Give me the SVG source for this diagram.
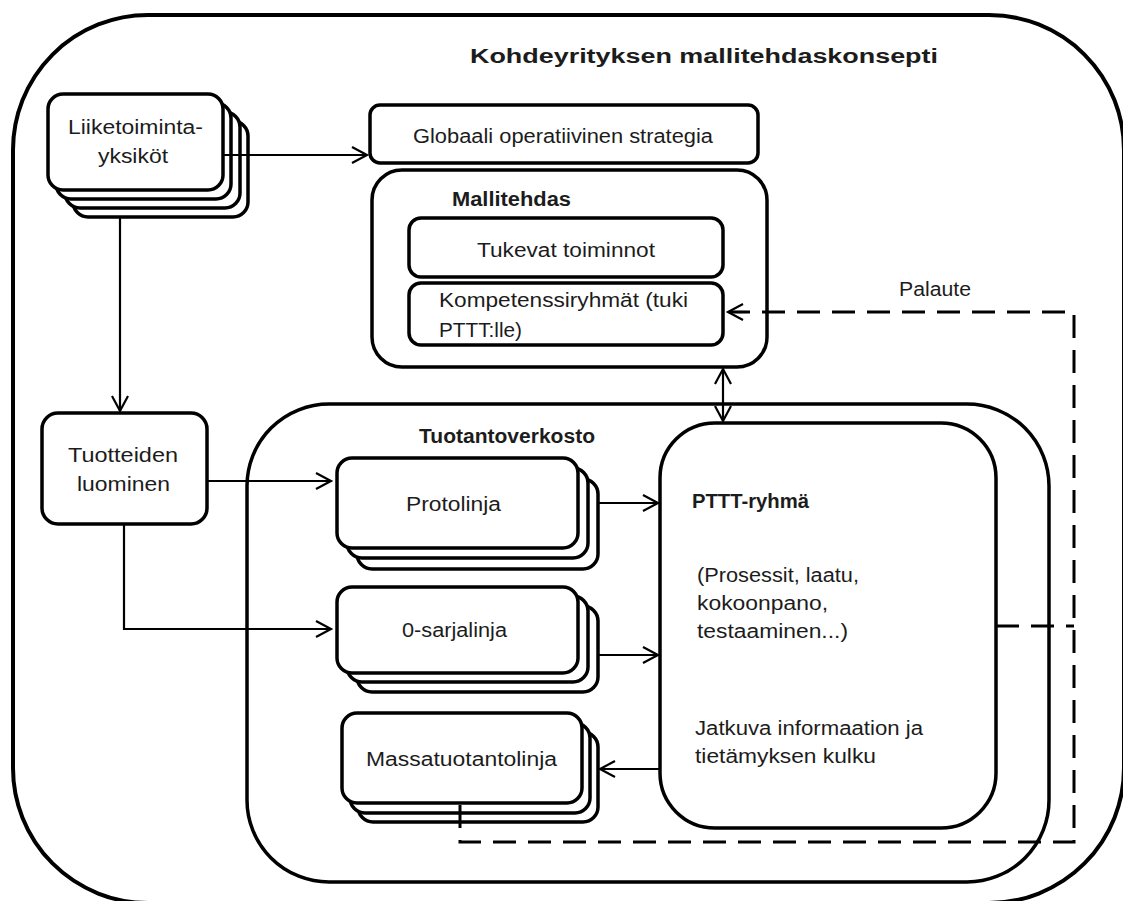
<svg xmlns="http://www.w3.org/2000/svg" width="1123" height="901" viewBox="0 0 1123 901">
  <style>
    .box { fill: #fff; stroke: #000; stroke-width: 3.5; }
    .frame { fill: none; stroke: #000; stroke-width: 4; }
    .link { fill: none; stroke: #000; stroke-width: 2.2; }
    .dash { fill: none; stroke: #000; stroke-width: 3; stroke-dasharray: 23 12; }
    .t { font-family: "Liberation Sans", Arial, sans-serif; font-size: 20px; fill: #1c1c1c; }
    .b { font-weight: bold; }
    .c { text-anchor: middle; }
  </style>
  <defs>
    <marker id="arrow" viewBox="-17 -10 20 20" refX="0" refY="0" markerWidth="20" markerHeight="20" markerUnits="userSpaceOnUse" orient="auto-start-reverse">
      <path d="M-15,-8 L0,0 L-15,8" fill="none" stroke="#000" stroke-width="2.2"/>
    </marker>
  </defs>

  <rect id="background" x="0" y="0" width="1123" height="901" fill="#fff"/>

  <!-- outer concept frame -->
  <g id="concept">
    <rect class="frame" x="13" y="15" width="1111" height="888" rx="135"/>
    <text class="t b" x="470" y="63" font-size="25" textLength="468" lengthAdjust="spacingAndGlyphs">Kohdeyrityksen mallitehdaskonsepti</text>
  </g>

  <!-- production network container -->
  <g id="tuotantoverkosto">
    <rect class="box" x="247" y="404" width="802" height="478" rx="82"/>
    <text class="t b" x="419" y="443" textLength="176" lengthAdjust="spacingAndGlyphs">Tuotantoverkosto</text>
  </g>

  <!-- business units (stacked) -->
  <g id="liiketoimintayksikot">
    <rect class="box" x="73" y="121" width="175" height="96" rx="15"/>
    <rect class="box" x="65" y="112" width="175" height="96" rx="15"/>
    <rect class="box" x="56" y="103" width="175" height="96" rx="15"/>
    <rect class="box" x="48" y="94" width="175" height="96" rx="15"/>
    <text class="t" x="68" y="134" textLength="135" lengthAdjust="spacingAndGlyphs">Liiketoiminta-</text>
    <text class="t" x="98" y="163" textLength="70" lengthAdjust="spacingAndGlyphs">yksiköt</text>
  </g>

  <g id="strategia">
    <rect class="box" x="370" y="105" width="388" height="58" rx="10"/>
    <text class="t" x="413" y="143" textLength="300" lengthAdjust="spacingAndGlyphs">Globaali operatiivinen strategia</text>
  </g>

  <g id="mallitehdas">
    <rect class="box" x="372" y="170" width="395" height="197" rx="30"/>
    <text class="t b" x="452" y="206" textLength="119" lengthAdjust="spacingAndGlyphs">Mallitehdas</text>
  </g>

  <g id="tukevat">
    <rect class="box" x="409" y="218" width="314" height="59" rx="12"/>
    <text class="t" x="477" y="257" textLength="178" lengthAdjust="spacingAndGlyphs">Tukevat toiminnot</text>
  </g>

  <g id="kompetenssi">
    <rect class="box" x="409" y="283" width="314" height="62" rx="12"/>
    <text class="t" x="439" y="307" textLength="249" lengthAdjust="spacingAndGlyphs">Kompetenssiryhmät (tuki</text>
    <text class="t" x="439" y="337" textLength="83" lengthAdjust="spacingAndGlyphs">PTTT:lle)</text>
  </g>

  <g id="tuotteiden-luominen">
    <rect class="box" x="42" y="413" width="165" height="111" rx="16"/>
    <text class="t" x="68" y="462" textLength="110" lengthAdjust="spacingAndGlyphs">Tuotteiden</text>
    <text class="t" x="77" y="491" textLength="93" lengthAdjust="spacingAndGlyphs">luominen</text>
  </g>

  <g id="protolinja">
    <rect class="box" x="357" y="479" width="241" height="90" rx="15"/>
    <rect class="box" x="347" y="468" width="241" height="90" rx="15"/>
    <rect class="box" x="337" y="458" width="241" height="90" rx="15"/>
    <text class="t" x="406" y="511" textLength="95" lengthAdjust="spacingAndGlyphs">Protolinja</text>
  </g>

  <g id="sarjalinja">
    <rect class="box" x="357" y="606" width="241" height="86" rx="15"/>
    <rect class="box" x="347" y="596" width="241" height="86" rx="15"/>
    <rect class="box" x="337" y="587" width="241" height="86" rx="15"/>
    <text class="t" x="402" y="637" textLength="105" lengthAdjust="spacingAndGlyphs">0-sarjalinja</text>
  </g>

  <g id="massatuotantolinja">
    <rect class="box" x="358" y="732" width="240" height="90" rx="15"/>
    <rect class="box" x="350" y="723" width="240" height="90" rx="15"/>
    <rect class="box" x="342" y="713" width="240" height="90" rx="15"/>
    <text class="t" x="366" y="766" textLength="191" lengthAdjust="spacingAndGlyphs">Massatuotantolinja</text>
  </g>

  <g id="pttt-ryhma">
    <rect class="box" x="660" y="423" width="336" height="405" rx="55"/>
    <text class="t b" x="692" y="508" textLength="117" lengthAdjust="spacingAndGlyphs">PTTT-ryhmä</text>
    <text class="t" x="697" y="582" textLength="162" lengthAdjust="spacingAndGlyphs">(Prosessit, laatu,</text>
    <text class="t" x="697" y="610" textLength="131" lengthAdjust="spacingAndGlyphs">kokoonpano,</text>
    <text class="t" x="697" y="638" textLength="151" lengthAdjust="spacingAndGlyphs">testaaminen...)</text>
    <text class="t" x="695" y="735" textLength="228" lengthAdjust="spacingAndGlyphs">Jatkuva informaation ja</text>
    <text class="t" x="695" y="763" textLength="181" lengthAdjust="spacingAndGlyphs">tietämyksen kulku</text>
  </g>

  <!-- connectors -->
  <g id="connectors">
    <path class="link" d="M223,155 H367" marker-end="url(#arrow)"/>
    <path class="link" d="M120,217 V411" marker-end="url(#arrow)"/>
    <path class="link" d="M207,481 H331" marker-end="url(#arrow)"/>
    <path class="link" d="M124,524 V629 H331" marker-end="url(#arrow)"/>
    <path class="link" d="M598,503 H658" marker-end="url(#arrow)"/>
    <path class="link" d="M598,655 H658" marker-end="url(#arrow)"/>
    <path class="link" d="M660,769 H600" marker-end="url(#arrow)"/>
    <path class="link" d="M723,369 V421" marker-start="url(#arrow)" marker-end="url(#arrow)"/>
    <!-- feedback loop -->
    <path class="dash" d="M460,805 V842 H1074 V312 H729"/>
    <path class="link" d="M745,312 H728" marker-end="url(#arrow)"/>
    <path class="dash" d="M996,626 H1074" stroke-dasharray="50 12 20 12"/>
    <text class="t" x="899" y="296" textLength="72" lengthAdjust="spacingAndGlyphs">Palaute</text>
  </g>
</svg>
